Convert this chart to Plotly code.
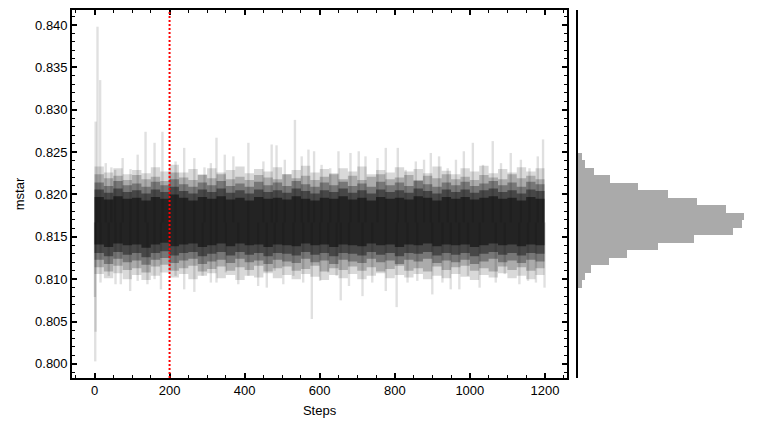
import plotly.graph_objects as go

# ---------------- data ----------------
burn_in = 200

# prominent upper excursions of the walkers (step, value)
up_steps = [3, 8, 15, 30, 45, 55, 75, 96, 115, 136, 160, 181, 200, 216, 239, 266, 293, 310,
            325, 347, 370, 410, 450, 472, 485, 507, 534, 552, 570, 585, 605, 628, 650, 682,
            704, 722, 754, 776, 808, 829, 856, 878, 896, 918, 941, 963, 984, 1008, 1035,
            1061, 1083, 1109, 1136, 1159, 1181, 1195]
up_vals = [0.8286, 0.8398, 0.8335, 0.8237, 0.8232, 0.8229, 0.8243, 0.8230, 0.8247, 0.8274,
           0.8261, 0.8274, 0.8229, 0.8239, 0.8255, 0.8243, 0.8232, 0.8237, 0.8267, 0.8247,
           0.8245, 0.8261, 0.8239, 0.8259, 0.8258, 0.8241, 0.8288, 0.8245, 0.8253, 0.8251,
           0.8235, 0.8231, 0.8251, 0.8249, 0.8251, 0.8245, 0.8243, 0.8255, 0.8255, 0.8229,
           0.8239, 0.8241, 0.8249, 0.8245, 0.8231, 0.8241, 0.8251, 0.8261, 0.8235, 0.8263,
           0.8237, 0.8249, 0.8241, 0.8231, 0.8245, 0.8265]

# prominent lower excursions (step, value)
lo_steps = [2, 16, 38, 56, 70, 95, 115, 141, 160, 177, 200, 216, 239, 266, 288, 310, 325,
            350, 383, 410, 436, 459, 480, 503, 530, 556, 579, 601, 623, 645, 656, 678, 714,
            740, 776, 805, 834, 860, 900, 927, 949, 972, 995, 1026, 1069, 1093, 1132, 1155,
            1176, 1199]
lo_vals = [0.8003, 0.8096, 0.8104, 0.8094, 0.8094, 0.8086, 0.8098, 0.8094, 0.8100, 0.8088,
           0.8109, 0.8104, 0.8088, 0.8085, 0.8104, 0.8096, 0.8096, 0.8108, 0.8094, 0.8104,
           0.8092, 0.8090, 0.8110, 0.8094, 0.8104, 0.8096, 0.8053, 0.8098, 0.8108, 0.8104,
           0.8075, 0.8092, 0.8080, 0.8096, 0.8086, 0.8067, 0.8096, 0.8098, 0.8082, 0.8096,
           0.8088, 0.8088, 0.8104, 0.8090, 0.8096, 0.8106, 0.8094, 0.8098, 0.8096, 0.8090]
chain_centre = 0.8167

# burn-in excursions of the darker walkers at the very start (step, low value)
start_steps = [1, 3]
start_lo = [0.8079, 0.8038]

# density bands of the walker ensemble (sampled every 25 steps)
band_steps = [0, 25, 50, 75, 100, 125, 150, 175, 200, 225,
              250, 275, 300, 325, 350, 375, 400, 425, 450, 475,
              500, 525, 550, 575, 600, 625, 650, 675, 700, 725,
              750, 775, 800, 825, 850, 875, 900, 925, 950, 975,
              1000, 1025, 1050, 1075, 1100, 1125, 1150, 1175, 1199]
a_hi = [0.8233, 0.8226, 0.8231, 0.8224, 0.8229, 0.8225, 0.8232, 0.8227, 0.8235, 0.8226,
        0.8230, 0.8224, 0.8231, 0.8226, 0.8229, 0.8233, 0.8225, 0.8230, 0.8227, 0.8232,
        0.8224, 0.8229, 0.8234, 0.8226, 0.8230, 0.8225, 0.8231, 0.8227, 0.8233, 0.8224,
        0.8229, 0.8226, 0.8232, 0.8227, 0.8230, 0.8225, 0.8233, 0.8228, 0.8224, 0.8231,
        0.8227, 0.8234, 0.8225, 0.8230, 0.8226, 0.8232, 0.8227, 0.8231, 0.8229]
a_lo = [0.8098, 0.8106, 0.8101, 0.8107, 0.8100, 0.8105, 0.8099, 0.8104, 0.8108, 0.8102,
        0.8106, 0.8100, 0.8104, 0.8107, 0.8101, 0.8105, 0.8099, 0.8104, 0.8102, 0.8107,
        0.8101, 0.8105, 0.8100, 0.8106, 0.8103, 0.8099, 0.8105, 0.8101, 0.8106, 0.8100,
        0.8104, 0.8107, 0.8101, 0.8105, 0.8102, 0.8106, 0.8100, 0.8104, 0.8101, 0.8106,
        0.8103, 0.8099, 0.8105, 0.8102, 0.8107, 0.8101, 0.8104, 0.8100, 0.8105]
b_hi = [0.8224, 0.8219, 0.8222, 0.8217, 0.8223, 0.8218, 0.8221, 0.8216, 0.8226, 0.8220,
        0.8217, 0.8223, 0.8219, 0.8224, 0.8218, 0.8221, 0.8217, 0.8223, 0.8220, 0.8218,
        0.8224, 0.8219, 0.8222, 0.8217, 0.8221, 0.8224, 0.8218, 0.8222, 0.8217, 0.8221,
        0.8224, 0.8218, 0.8220, 0.8223, 0.8217, 0.8222, 0.8219, 0.8224, 0.8218, 0.8221,
        0.8217, 0.8223, 0.8220, 0.8218, 0.8224, 0.8219, 0.8222, 0.8218, 0.8221]
b_lo = [0.8110, 0.8114, 0.8109, 0.8116, 0.8111, 0.8113, 0.8108, 0.8115, 0.8117, 0.8110,
        0.8113, 0.8116, 0.8109, 0.8112, 0.8115, 0.8110, 0.8114, 0.8111, 0.8116, 0.8109,
        0.8113, 0.8115, 0.8110, 0.8112, 0.8116, 0.8109, 0.8113, 0.8111, 0.8115, 0.8110,
        0.8114, 0.8109, 0.8112, 0.8116, 0.8110, 0.8113, 0.8109, 0.8115, 0.8111, 0.8114,
        0.8116, 0.8110, 0.8113, 0.8109, 0.8115, 0.8111, 0.8114, 0.8110, 0.8113]
c_hi = [0.8214, 0.8210, 0.8216, 0.8211, 0.8213, 0.8209, 0.8215, 0.8211, 0.8218, 0.8212,
        0.8209, 0.8214, 0.8211, 0.8216, 0.8210, 0.8213, 0.8209, 0.8215, 0.8211, 0.8214,
        0.8210, 0.8216, 0.8212, 0.8209, 0.8214, 0.8211, 0.8215, 0.8210, 0.8213, 0.8209,
        0.8215, 0.8211, 0.8214, 0.8210, 0.8216, 0.8212, 0.8209, 0.8214, 0.8211, 0.8215,
        0.8210, 0.8213, 0.8216, 0.8211, 0.8214, 0.8209, 0.8215, 0.8212, 0.8213]
c_lo = [0.8119, 0.8123, 0.8118, 0.8124, 0.8120, 0.8122, 0.8117, 0.8123, 0.8125, 0.8119,
        0.8122, 0.8124, 0.8118, 0.8121, 0.8123, 0.8119, 0.8124, 0.8120, 0.8122, 0.8118,
        0.8123, 0.8121, 0.8119, 0.8124, 0.8120, 0.8122, 0.8118, 0.8123, 0.8121, 0.8119,
        0.8124, 0.8120, 0.8122, 0.8118, 0.8123, 0.8121, 0.8124, 0.8119, 0.8122, 0.8120,
        0.8123, 0.8118, 0.8121, 0.8124, 0.8120, 0.8122, 0.8119, 0.8123, 0.8121]
d_hi = [0.8206, 0.8202, 0.8207, 0.8203, 0.8205, 0.8201, 0.8206, 0.8203, 0.8209, 0.8204,
        0.8201, 0.8206, 0.8203, 0.8207, 0.8202, 0.8205, 0.8201, 0.8206, 0.8203, 0.8205,
        0.8202, 0.8207, 0.8204, 0.8201, 0.8205, 0.8203, 0.8207, 0.8202, 0.8205, 0.8201,
        0.8206, 0.8203, 0.8205, 0.8202, 0.8207, 0.8204, 0.8201, 0.8206, 0.8203, 0.8206,
        0.8202, 0.8205, 0.8207, 0.8203, 0.8205, 0.8201, 0.8206, 0.8204, 0.8205]
d_lo = [0.8128, 0.8131, 0.8127, 0.8132, 0.8129, 0.8131, 0.8126, 0.8131, 0.8133, 0.8128,
        0.8131, 0.8132, 0.8127, 0.8130, 0.8132, 0.8128, 0.8132, 0.8129, 0.8131, 0.8127,
        0.8131, 0.8130, 0.8128, 0.8132, 0.8129, 0.8131, 0.8127, 0.8131, 0.8130, 0.8128,
        0.8132, 0.8129, 0.8131, 0.8127, 0.8131, 0.8130, 0.8132, 0.8128, 0.8131, 0.8129,
        0.8131, 0.8127, 0.8130, 0.8132, 0.8129, 0.8131, 0.8128, 0.8131, 0.8130]
e_hi = [0.8197, 0.8194, 0.8198, 0.8195, 0.8196, 0.8193, 0.8197, 0.8195, 0.8200, 0.8196,
        0.8193, 0.8197, 0.8195, 0.8198, 0.8194, 0.8196, 0.8193, 0.8197, 0.8195, 0.8196,
        0.8194, 0.8198, 0.8195, 0.8193, 0.8196, 0.8195, 0.8198, 0.8194, 0.8196, 0.8193,
        0.8197, 0.8195, 0.8196, 0.8194, 0.8198, 0.8196, 0.8193, 0.8197, 0.8195, 0.8197,
        0.8194, 0.8196, 0.8198, 0.8195, 0.8196, 0.8193, 0.8197, 0.8195, 0.8196]
e_lo = [0.8139, 0.8141, 0.8138, 0.8142, 0.8140, 0.8141, 0.8137, 0.8141, 0.8143, 0.8139,
        0.8141, 0.8142, 0.8138, 0.8140, 0.8142, 0.8139, 0.8142, 0.8140, 0.8141, 0.8138,
        0.8141, 0.8140, 0.8139, 0.8142, 0.8140, 0.8141, 0.8138, 0.8141, 0.8140, 0.8139,
        0.8142, 0.8140, 0.8141, 0.8138, 0.8141, 0.8140, 0.8142, 0.8139, 0.8141, 0.8140,
        0.8141, 0.8138, 0.8140, 0.8142, 0.8140, 0.8141, 0.8139, 0.8141, 0.8140]

# marginal histogram (bin centres, relative counts)
hist_centres = [0.80946, 0.81035, 0.81123, 0.81211, 0.81300, 0.81388, 0.81476, 0.81564,
                0.81653, 0.81741, 0.81829, 0.81918, 0.82006, 0.82094, 0.82182, 0.82271,
                0.82359, 0.82447]
hist_counts = [4.0, 6.7, 12.7, 30.7, 48.7, 79.7, 115.7, 154.7, 163.7, 165.7, 147.4, 118.7,
               89.7, 59.7, 31.7, 16.4, 7.4, 3.7]
hist_bin_width = 0.000883

x_ticks = [0, 200, 400, 600, 800, 1000, 1200]
y_ticks = [0.800, 0.805, 0.810, 0.815, 0.820, 0.825, 0.830, 0.835, 0.840]

# ---------------- figure ----------------
FONT = "Liberation Sans, Arial, Helvetica, sans-serif"
fig = go.Figure()

# walker excursions as thin translucent strokes
sx, sy = [], []
for s, v in zip(up_steps, up_vals):
    sx += [s, s, None]
    sy += [chain_centre, v, None]
for s, v in zip(lo_steps, lo_vals):
    sx += [s, s, None]
    sy += [chain_centre, v, None]
for s, v in zip(start_steps, start_lo):
    sx += [s, s, None]
    sy += [chain_centre, v, None]
fig.add_trace(go.Scatter(x=sx, y=sy, mode="lines",
                         line=dict(color="rgba(0,0,0,0.12)", width=2.4),
                         hoverinfo="skip", showlegend=False, xaxis="x", yaxis="y"))

for hi, lo, alpha in [(a_hi, a_lo, 0.15), (b_hi, b_lo, 0.21), (c_hi, c_lo, 0.3),
                      (d_hi, d_lo, 0.4), (e_hi, e_lo, 0.5)]:
    fig.add_trace(go.Scatter(x=band_steps + band_steps[::-1], y=hi + lo[::-1],
                             fill="toself", fillcolor=f"rgba(0,0,0,{alpha})",
                             mode="lines", line=dict(width=0, shape="hv"),
                             hoverinfo="skip", showlegend=False, xaxis="x", yaxis="y"))

fig.add_vline(x=burn_in, line=dict(color="#ff0000", width=2, dash="2px,2px"),
              xref="x", yref="y")

fig.add_trace(go.Bar(y=hist_centres, x=hist_counts, orientation="h",
                     width=hist_bin_width, marker=dict(color="#aaaaaa", line=dict(width=0)),
                     showlegend=False, xaxis="x2", yaxis="y2"))

yr = [0.79834, 0.84177]
axis_common = dict(showline=True, linecolor="black", linewidth=1.6, mirror="ticks",
                   ticks="inside", ticklen=5, tickwidth=1.5, tickcolor="black",
                   showgrid=False, zeroline=False,
                   tickfont=dict(family=FONT, size=13, color="black"))

fig.update_layout(
    width=761, height=431,
    margin=dict(l=72, r=9, t=10, b=53),
    paper_bgcolor="white", plot_bgcolor="white",
    font=dict(family=FONT, size=13, color="black"),
    bargap=0,
    xaxis=dict(domain=[0, 0.728], range=[-59.95, 1258.95], tickvals=x_ticks,
               minor=dict(dtick=50, tick0=0, ticks="inside", ticklen=3, tickwidth=1.3,
                          tickcolor="black"),
               title=dict(text="Steps", font=dict(family=FONT, size=13), standoff=8),
               **axis_common),
    yaxis=dict(range=yr, tickvals=y_ticks, tickformat=".3f",
               minor=dict(dtick=0.001, tick0=0.8, ticks="inside", ticklen=3, tickwidth=1.3,
                          tickcolor="black"),
               title=dict(text="mstar", font=dict(family=FONT, size=13), standoff=8),
               **axis_common),
    xaxis2=dict(domain=[0.7437, 1], range=[0, 174], showline=False, showgrid=False,
                zeroline=False, showticklabels=False, ticks="", anchor="y2"),
    yaxis2=dict(range=yr, anchor="x2", showline=True, linecolor="black", linewidth=2,
                showgrid=False, zeroline=False, showticklabels=False, ticks=""),
)

fig.write_html("out.html")
